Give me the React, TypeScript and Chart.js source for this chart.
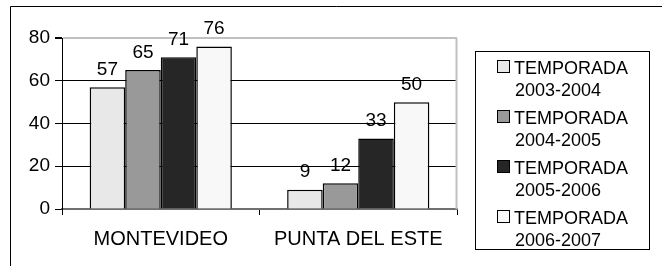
import React, { useEffect, useRef } from "react";
import { Chart, registerables } from "chart.js";

Chart.register(...registerables);

const categories = ["MONTEVIDEO", "PUNTA DEL ESTE"];
const seriesLabels = ["TEMPORADA 2003-2004", "TEMPORADA 2004-2005", "TEMPORADA 2005-2006", "TEMPORADA 2006-2007"];
const season0304 = [57, 9];
const season0405 = [65, 12];
const season0506 = [71, 33];
const season0607 = [76, 50];
const seriesColors = ["#e8e8e8", "#999999", "#262626", "#f8f8f8"];
const yTicks = [0, 20, 40, 60, 80];

const FONT = "'Liberation Sans', Arial, sans-serif";

const framePlugin = {
  id: "frame",
  beforeDraw(chart: any) {
    const ctx = chart.ctx;
    ctx.save();
    ctx.fillStyle = "#ffffff";
    ctx.fillRect(0, 0, chart.width, chart.height);
    ctx.strokeStyle = "#000";
    ctx.lineWidth = 1;
    ctx.beginPath();
    ctx.moveTo(10.5, chart.height + 2);
    ctx.lineTo(10.5, 6.5);
    ctx.lineTo(chart.width + 2, 6.5);
    ctx.stroke();
    ctx.restore();
  },
  beforeDatasetsDraw(chart: any) {
    const { ctx, chartArea } = chart;
    ctx.save();
    ctx.strokeStyle = "#c0c0c0";
    ctx.lineWidth = 2;
    ctx.beginPath();
    ctx.moveTo(chartArea.right - 0.5, chartArea.bottom);
    ctx.lineTo(chartArea.right - 0.5, chartArea.top);
    ctx.stroke();
    ctx.restore();
  },
  afterDatasetsDraw(chart: any) {
    const ctx = chart.ctx;
    ctx.save();
    ctx.font = `19px ${FONT}`;
    ctx.fillStyle = "#000";
    ctx.textAlign = "center";
    ctx.textBaseline = "alphabetic";
    chart.data.datasets.forEach((ds: any, i: number) => {
      const meta = chart.getDatasetMeta(i);
      meta.data.forEach((bar: any, j: number) => {
        ctx.fillText(String(ds.data[j]), bar.x, bar.y - 12.5);
      });
    });
    // legend
    ctx.font = `18px ${FONT}`;
    const lx = 475.5, ly = 51.5, lw = 174, lh = 198;
    ctx.strokeStyle = "#000";
    ctx.lineWidth = 1;
    ctx.strokeRect(lx, ly, lw, lh);
    ctx.textAlign = "left";
    ctx.textBaseline = "middle";
    chart.data.datasets.forEach((ds: any, i: number) => {
      const cy = 69 + i * 50;
      const sx = 497.5, sy = cy - 8.5;
      ctx.fillStyle = ds.backgroundColor;
      ctx.fillRect(sx, sy, 12, 12);
      ctx.strokeRect(sx, sy, 12, 12);
      const label: string = ds.label;
      const k = label.indexOf(" ");
      ctx.fillStyle = "#000";
      ctx.fillText(label.slice(0, k), 514, cy);
      ctx.fillText(label.slice(k + 1), 515, cy + 22.5);
    });
    ctx.restore();
  },
};

export default function App() {
  const ref = useRef<HTMLCanvasElement | null>(null);
  useEffect(() => {
    if (!ref.current) return;
    const datasets = [season0304, season0405, season0506, season0607].map((d, i) => ({
      label: seriesLabels[i],
      data: d,
      backgroundColor: seriesColors[i],
      borderColor: "#000",
      borderWidth: 1.5,
      categoryPercentage: 0.72,
      barPercentage: 1,
    }));
    const chart = new Chart(ref.current, {
      type: "bar",
      data: { labels: categories, datasets },
      options: {
        responsive: false,
        animation: false,
        events: [],
        layout: { padding: { left: 10, right: 205, top: 38, bottom: 0 } },
        plugins: { legend: { display: false }, tooltip: { enabled: false } },
        scales: {
          x: {
            afterFit: (s: any) => { s.height = 57; },
            grid: {
              offset: true,
              drawOnChartArea: false,
              drawTicks: true,
              tickLength: 6,
              tickColor: "#000",
            },
            border: { display: true, color: "#707070", width: 1.5 },
            ticks: { color: "#000", font: { family: FONT, size: 20 }, padding: 12.5, maxRotation: 0 },
          },
          y: {
            min: 0,
            max: 80,
            afterFit: (s: any) => { s.width = 52; },
            afterBuildTicks: (s: any) => { s.ticks = yTicks.map((v) => ({ value: v })); },
            grid: {
              color: (c: any) => (c.tick && c.tick.value === 80 ? "#c0c0c0" : c.tick && c.tick.value === 0 ? "#707070" : "#000"),
              lineWidth: (c: any) => (c.tick && c.tick.value === 80 ? 2 : 1),
              drawTicks: true,
              tickLength: 7,
              tickColor: "#000",
            },
            border: { display: true, color: "#000", width: 1 },
            ticks: { color: "#000", font: { family: FONT, size: 19 }, padding: 5, stepSize: 20 },
          },
        },
      },
      plugins: [framePlugin],
    });
    return () => chart.destroy();
  }, []);
  return (
    <div style={{ position: "absolute", left: 0, top: 0, width: 662, height: 266 }}>
      <canvas ref={ref} width={662} height={266} style={{ display: "block", width: 662, height: 266 }} />
    </div>
  );
}
